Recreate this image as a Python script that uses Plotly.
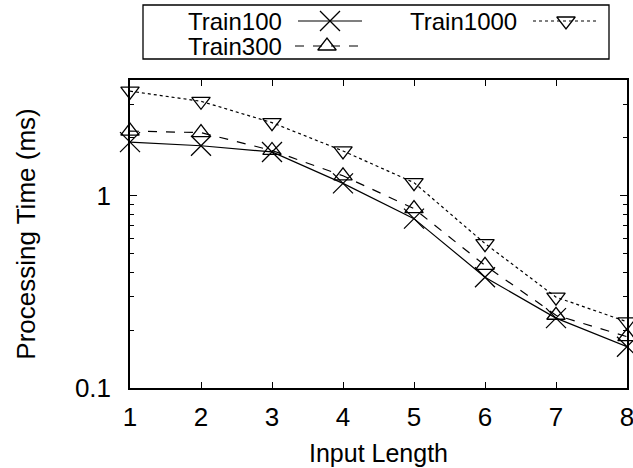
import plotly.graph_objects as go

# Processing time (ms) per input length for three training-set sizes
input_length = [1, 2, 3, 4, 5, 6, 7, 8]
train100 = [1.90, 1.82, 1.69, 1.16, 0.76, 0.377, 0.231, 0.164]
train300 = [2.17, 2.13, 1.72, 1.27, 0.857, 0.434, 0.239, 0.185]
train1000 = [3.50, 3.10, 2.40, 1.71, 1.17, 0.564, 0.297, 0.221]

series_names = ["Train100", "Train300", "Train1000"]
series_values = [train100, train300, train1000]
y_tick_vals = [0.1, 1]
y_tick_text = ["0.1", "1"]
y_minor_vals = [0.2, 0.3, 0.4, 0.5, 0.6, 0.7, 0.8, 0.9, 2, 3]

W, H = 633, 468
# plot box in pixels
PL, PR, PT, PB = 130, 627, 80, 388

FONT = "Liberation Sans, Arial, Helvetica, sans-serif"
FS_KEY = 24
FS_TICK = 26
FS_XTITLE = 25
FS_YTITLE = 26

styles = {
    "Train100": dict(dash="solid", symbol="x-thin-open", size=20),
    "Train300": dict(dash="dash", symbol="triangle-up-open", size=16),
    "Train1000": dict(dash="dot", symbol="triangle-down-open", size=16),
}

fig = go.Figure()

for name, vals in zip(series_names, series_values):
    st = styles[name]
    fig.add_trace(go.Scatter(
        x=input_length, y=vals, name=name, mode="lines+markers",
        line=dict(color="black", width=1.2, dash=st["dash"]),
        marker=dict(symbol=st["symbol"], size=st["size"], color="black",
                    line=dict(color="black", width=1.3)),
        cliponaxis=False, showlegend=False,
        xaxis="x", yaxis="y",
    ))

# Key: label text followed by a line sample with its marker (pixel overlay axes)
key_entries = [
    # name, text left x, row y, sample x0, sample x1, marker x
    ("Train100", 186, 21, 298, 362, 330),
    ("Train300", 186, 46, 295, 358, 327),
    ("Train1000", 408, 21, 533, 598, 566),
]
for name, tx, ty, sx0, sx1, mx in key_entries:
    st = styles[name]
    fig.add_trace(go.Scatter(
        x=[sx0, sx1], y=[ty, ty], mode="lines",
        line=dict(color="black", width=1.2, dash=st["dash"]),
        showlegend=False, hoverinfo="skip", xaxis="x2", yaxis="y2",
    ))
    fig.add_trace(go.Scatter(
        x=[mx], y=[ty], mode="markers",
        marker=dict(symbol=st["symbol"], size=st["size"], color="black",
                    line=dict(color="black", width=1.3)),
        showlegend=False, hoverinfo="skip", xaxis="x2", yaxis="y2",
        cliponaxis=False,
    ))
    fig.add_annotation(
        x=tx, y=ty, xref="x2", yref="y2", text=name, showarrow=False,
        xanchor="left", yanchor="middle",
        font=dict(family=FONT, size=FS_KEY, color="black"),
    )

fig.add_shape(type="rect", xref="x2", yref="y2", x0=143, x1=609, y0=5, y1=59,
              line=dict(color="black", width=1.3))

fig.update_layout(
    width=W, height=H,
    margin=dict(l=0, r=0, t=0, b=0),
    paper_bgcolor="white",
    plot_bgcolor="rgba(0,0,0,0)",
    font=dict(family=FONT, size=FS_TICK, color="black"),
    xaxis=dict(
        domain=[PL / W, PR / W], range=[1, 8], anchor="y",
        tickvals=input_length, ticks="inside", ticklen=6, tickwidth=1.3,
        tickcolor="black", showline=True, linecolor="black", linewidth=1.5,
        mirror="allticks", showgrid=False, zeroline=False,
        ticklabelstandoff=5, ticklabeloverflow="allow", automargin=False,
        tickfont=dict(size=FS_TICK),
        title=dict(text="Input Length", standoff=14, font=dict(size=FS_XTITLE)),
    ),
    yaxis=dict(
        domain=[(H - PB) / H, (H - PT) / H], type="log",
        range=[-1, 0.60206], anchor="x",
        tickmode="array", tickvals=y_tick_vals, ticktext=y_tick_text,
        ticks="inside", ticklen=7, tickwidth=1.3, tickcolor="black",
        minor=dict(tickmode="array", tickvals=y_minor_vals,
                   ticks="inside", ticklen=4, tickwidth=1.3,
                   tickcolor="black", showgrid=False),
        showline=True, linecolor="black", linewidth=1.5, mirror="allticks",
        showgrid=False, zeroline=False, ticklabelstandoff=12,
        automargin=False, tickfont=dict(size=FS_TICK),
        title=dict(text="Processing Time (ms)", standoff=32,
                   font=dict(size=FS_YTITLE)),
    ),
    xaxis2=dict(domain=[0, 1], range=[0, W], visible=False, anchor="y2",
                fixedrange=True),
    yaxis2=dict(domain=[0, 1], range=[H, 0], visible=False, anchor="x2",
                fixedrange=True),
)

fig.write_html("out.html")
